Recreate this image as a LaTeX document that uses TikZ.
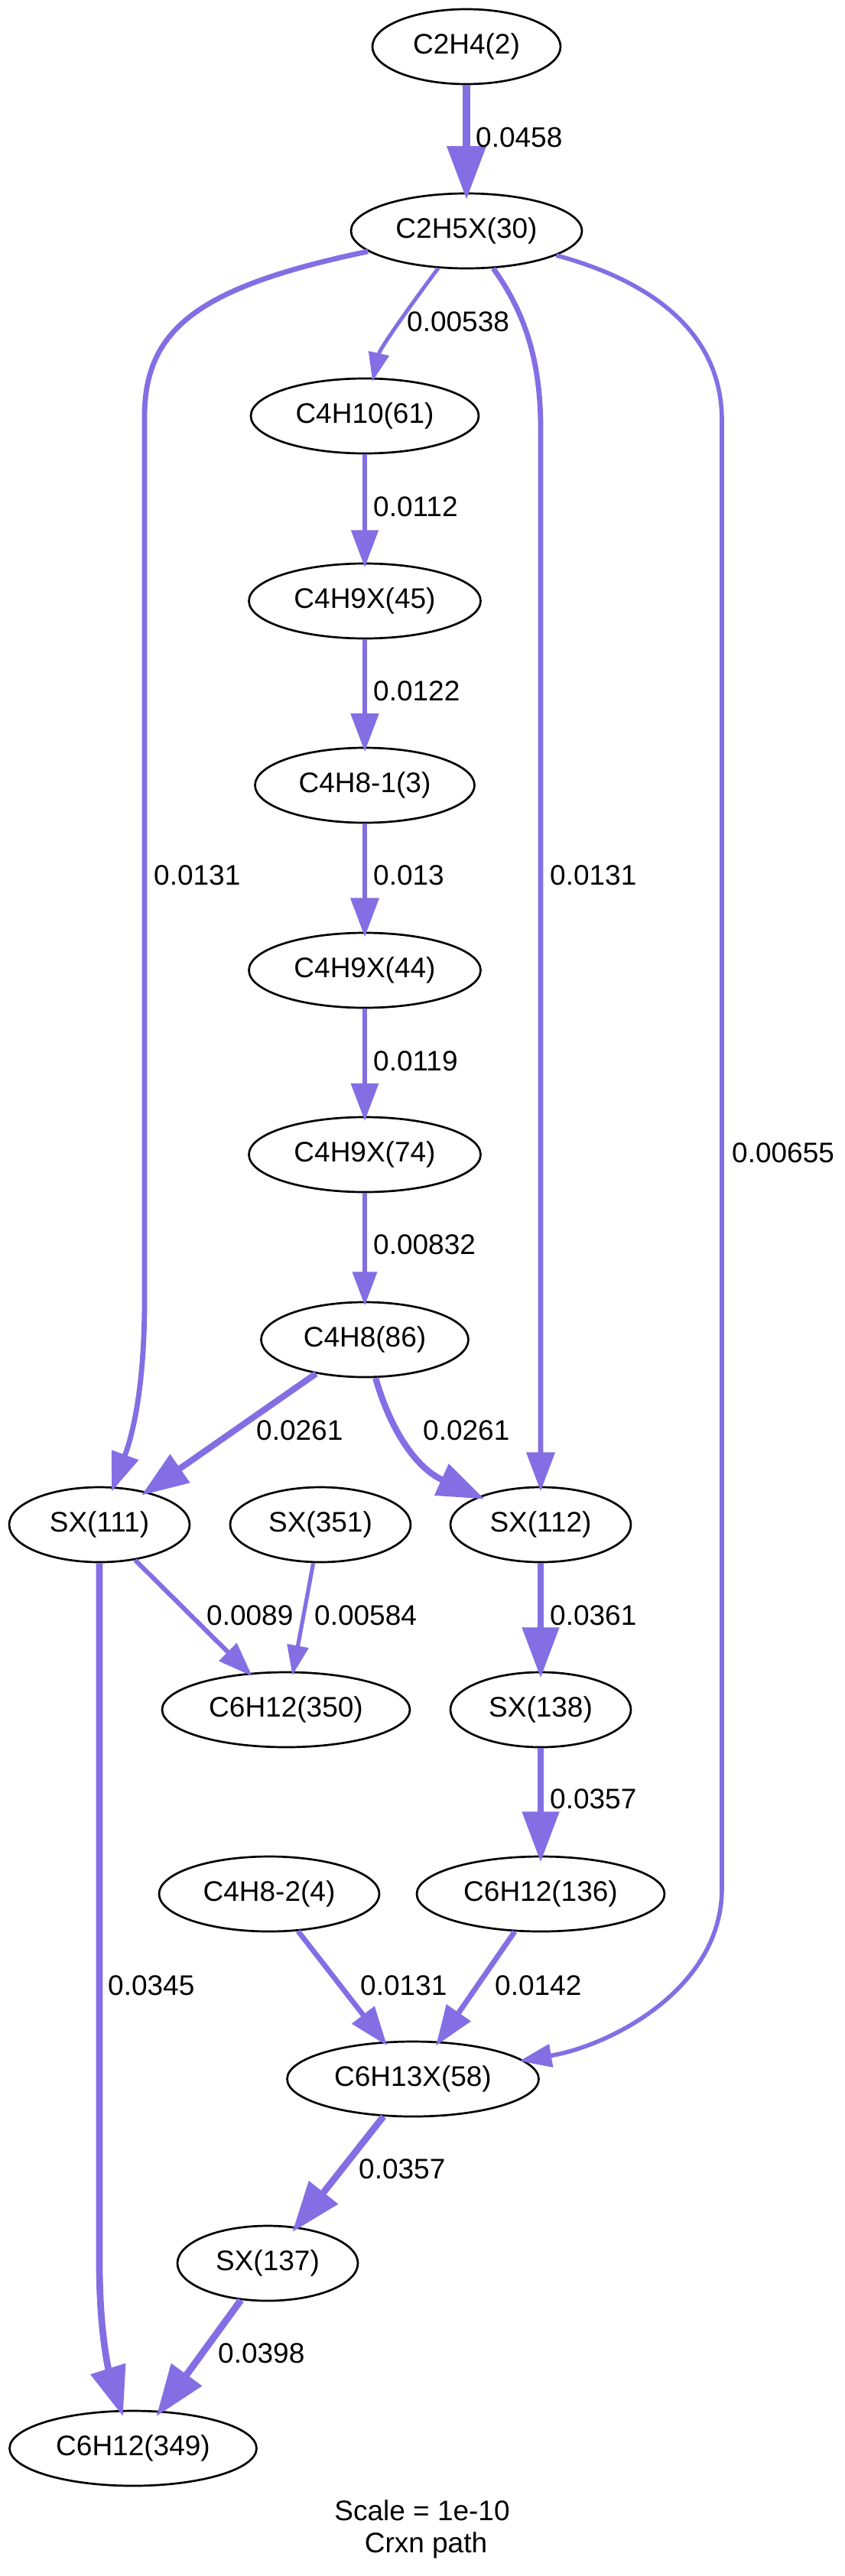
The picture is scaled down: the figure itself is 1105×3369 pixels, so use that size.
\documentclass[tikz,border=0pt]{standalone}
\usepackage{fontspec}
\setmainfont{Liberation Sans}
\usetikzlibrary{shapes.geometric,arrows.meta}
\definecolor{flux}{RGB}{132,110,228}
\begin{document}
\begin{tikzpicture}[x=1pt,y=-1pt,
  sp/.style={ellipse, draw, line width=2.7pt, inner sep=0pt, minimum height=98pt,
    font=\fontsize{37pt}{44pt}\selectfont},
  fl/.style={draw=flux, line width=#1, -{Triangle[length=0pt 7.5,width=0pt 5.3]}, shorten >=-#1},
  lb/.style={anchor=west, inner sep=0pt, font=\fontsize{37pt}{44pt}\selectfont}]
\useasboundingbox (0,0) rectangle (1105,3369);

% species
\node[sp, minimum width=246pt] (n2) at (610,61) {C2H4(2)};
\node[sp, minimum width=302pt] (n30) at (610,302) {C2H5X(30)};
\node[sp, minimum width=298pt] (n61) at (477,544) {C4H10(61)};
\node[sp, minimum width=303pt] (n45) at (477,786) {C4H9X(45)};
\node[sp, minimum width=287pt] (n3) at (477,1027) {C4H8-1(3)};
\node[sp, minimum width=303pt] (n44) at (477,1269) {C4H9X(44)};
\node[sp, minimum width=303pt] (n74) at (477,1510) {C4H9X(74)};
\node[sp, minimum width=271pt] (n86) at (477,1752) {C4H8(86)};
\node[sp, minimum width=236pt] (n111) at (130,1994) {SX(111)};
\node[sp, minimum width=236pt] (n351) at (419,1994) {SX(351)};
\node[sp, minimum width=236pt] (n112) at (707,1994) {SX(112)};
\node[sp, minimum width=324pt] (n350) at (374,2236) {C6H12(350)};
\node[sp, minimum width=236pt] (n138) at (707,2236) {SX(138)};
\node[sp, minimum width=288pt] (n4) at (352,2477) {C4H8-2(4)};
\node[sp, minimum width=324pt] (n136) at (707,2477) {C6H12(136)};
\node[sp, minimum width=329pt] (n58) at (540,2719) {C6H13X(58)};
\node[sp, minimum width=236pt] (n137) at (350,2960) {SX(137)};
\node[sp, minimum width=323pt] (n349) at (174,3202) {C6H12(349)};

% fluxes
\draw[fl=9.3pt] (n2) -- (n30);
\node[lb] (l1) at (622,180) {0.0458};

\draw[fl=5.0pt] (n30) .. controls (545,388) and (497,455) .. (n61);
\node[lb] (l2) at (532,421) {0.00538};

\draw[fl=6.8pt] (n30) .. controls (260,375) and (189,430) .. (189,545) -- (189,1700)
  .. controls (189,1820) and (172,1880) .. (n111);
\node[lb] (l3) at (201,1145) {0.0131};

\draw[fl=6.8pt] (n30) .. controls (680,400) and (707,460) .. (707,560) -- (n112);
\node[lb] (l4) at (719,1145) {0.0131};

\draw[fl=5.6pt] (n30) .. controls (860,370) and (944,440) .. (944,550) -- (944,2470)
  .. controls (944,2600) and (800,2675) .. (n58);
\node[lb] (l5) at (957,1508) {0.00655};

\draw[fl=6.5pt] (n61) -- (n45);
\node[lb] (l6) at (488,663) {0.0112};
\draw[fl=6.7pt] (n45) -- (n3);
\node[lb] (l7) at (488,904) {0.0122};
\draw[fl=6.8pt] (n3) -- (n44);
\node[lb] (l8) at (488,1145) {0.013};
\draw[fl=6.6pt] (n44) -- (n74);
\node[lb] (l9) at (488,1388) {0.0119};
\draw[fl=5.9pt] (n74) -- (n86);
\node[lb] (l10) at (488,1628) {0.00832};

\draw[fl=8.2pt] (n86) -- (n111);
\node[lb] (l11) at (335,1871) {0.0261};
\draw[fl=8.2pt] (n86) .. controls (508,1862) and (540,1918) .. (n112);
\node[lb] (l12) at (553,1871) {0.0261};

\draw[fl=6.0pt] (n111) -- (n350);
\node[lb] (l13) at (270,2113) {0.0089};
\draw[fl=5.2pt] (n351) -- (n350);
\node[lb] (l14) at (411,2113) {0.00584};
\draw[fl=8.8pt] (n112) -- (n138);
\node[lb] (l15) at (719,2113) {0.0361};
\draw[fl=8.8pt] (n138) -- (n136);
\node[lb] (l16) at (719,2353) {0.0357};

\draw[fl=8.7pt] (n111) -- (130,2960) .. controls (130,3060) and (145,3110) .. (n349);
\node[lb] (l17) at (141,2597) {0.0345};

\draw[fl=6.8pt] (n4) -- (n58);
\node[lb] (l18) at (471,2597) {0.0131};
\draw[fl=7.0pt] (n136) -- (n58);
\node[lb] (l19) at (647,2597) {0.0142};
\draw[fl=8.8pt] (n58) -- (n137);
\node[lb] (l20) at (469,2837) {0.0357};
\draw[fl=9.0pt] (n137) -- (n349);
\node[lb] (l21) at (285,3078) {0.0398};

\node[anchor=base, inner sep=0pt, font=\fontsize{37pt}{44pt}\selectfont] (s1) at (552,3296) {Scale = 1e-10};
\node[anchor=base, inner sep=0pt, font=\fontsize{37pt}{44pt}\selectfont] (s2) at (557,3338) {Crxn path};
\end{tikzpicture}
\end{document}
